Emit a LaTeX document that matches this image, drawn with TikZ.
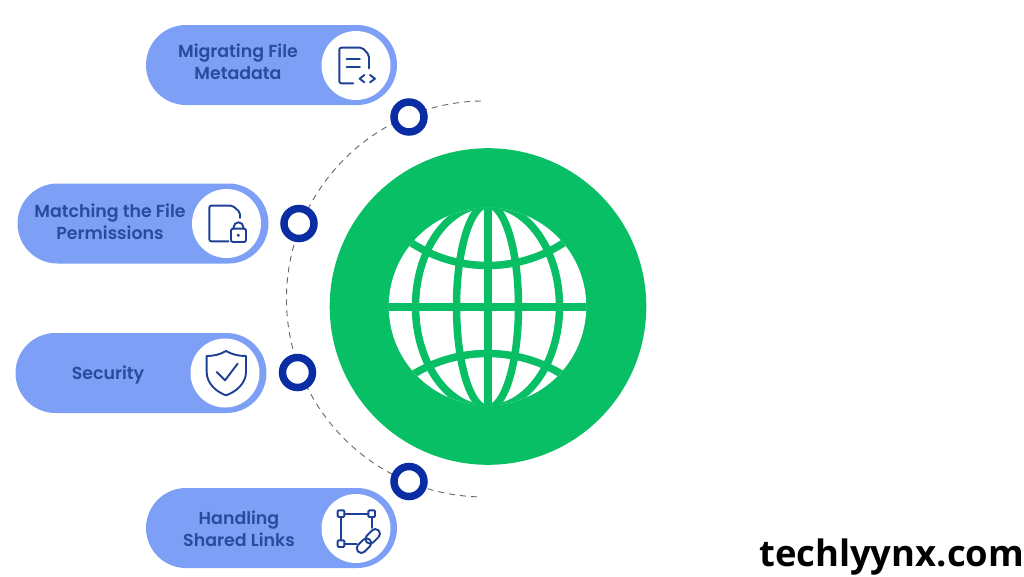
\documentclass[tikz,border=0pt]{standalone}
\usepackage{fontspec}
\setmainfont{Poppins}[BoldFont={Poppins SemiBold}]
\newfontfamily\brandfont{Open Sans}[BoldFont={Open Sans Bold}]
\usetikzlibrary{shapes.misc,positioning}
\definecolor{gpill}{HTML}{7E9FF6}
\definecolor{gtext}{HTML}{2A4A9C}
\definecolor{gicon}{HTML}{1E3F96}
\definecolor{gring}{HTML}{0A2DA3}
\definecolor{ggreen}{HTML}{08BF65}
\definecolor{gdash}{HTML}{666666}

\begin{document}
\begin{tikzpicture}[x=1pt,y=1pt]
    \tikzset{pill/.style={
      rounded rectangle,
      fill=gpill,
      minimum width=251,
      minimum height=80,
      inner sep=0},
      disc/.style={circle,fill=white,minimum size=69,inner sep=0},
      ring/.style={circle,draw=gring,fill=white,line width=7.5,minimum size=30,inner sep=0},
      lbl/.style={align=center,text=gtext,font=\fontsize{17.4}{22}\selectfont\bfseries},
      ico/.style={draw=gicon,line width=1.9,line join=round,line cap=round},
      icoat/.style={shift={(#1)},x=.3333pt,y=-.3333pt}}
    \useasboundingbox (0,0) rectangle (1024,-576);

    \coordinate (a0) at (481,-101);
    \draw[gdash,line width=.9,dash pattern=on 6 off 5] (a0) arc[start angle=91,end angle=269,radius=198];

    \node at (271.5,-65) [pill] (1) {};
    \node at (143,-223.5) [pill] (2) {};
    \node at (141,-373) [pill] (3) {};
    \node at (271.5,-528) [pill] (4) {};

    \node at (356,-65.5) [disc] (d1) {};
    \node at (226.5,-223.5) [disc] (d2) {};
    \node at (225,-373) [disc] (d3) {};
    \node at (356,-528.5) [disc] (d4) {};

    \node at (238,-61.5) [lbl] (t1) {Migrating File\\Metadata};
    \node at (110,-221.5) [lbl] (t2) {Matching the File\\Permissions};
    \node at (108,-374.5) [lbl] (t3) {Security};
    \node at (239,-529) [lbl] (t4) {Handling\\Shared Links};

    \node at (409,-117) [ring] (r1) {};
    \node at (299,-223.5) [ring] (r2) {};
    \node at (297.5,-372.5) [ring] (r3) {};
    \node at (409,-481.5) [ring] (r4) {};

    % globe
    \node at (488,-306.5) [circle,fill=ggreen,minimum size=316.6,inner sep=0] (g) {};
    \node at (487.5,-306.5) [circle,fill=white,minimum size=197.5,inner sep=0] (w) {};
    \begin{scope}
      \clip (487.5,-306.5) circle (98.8);
      \draw[ggreen,line width=7.5] (487.5,-306.5) ellipse (72 and 102);
      \draw[ggreen,line width=7.5] (487.5,-306.5) ellipse (31 and 102);
      \draw[ggreen,line width=8] (487.5,-200) -- (487.5,-410);
      \draw[ggreen,line width=8] (380,-306.5) -- (595,-306.5);
      \draw[ggreen,line width=7.5] (487.5,-126.5) circle (139);
      \draw[ggreen,line width=7.5] (487.5,-496.5) circle (143);
    \end{scope}

    % file with code
    \begin{scope}[icoat={325,-35}]
      \draw[ico,rounded corners=2] (132,100) -- (132,60) -- (112,38) -- (43,38) -- (43,145) -- (85,145);
      \draw[ico] (65,72) -- (105,72);
      \draw[ico] (65,95) -- (105,95);
      \draw[ico] (118,120) -- (104,131) -- (118,142);
      \draw[ico] (135,120) -- (150,131) -- (135,142);
    \end{scope}
    % file with lock
    \begin{scope}[icoat={196,-193}]
      \draw[ico,rounded corners=2] (132,75) -- (132,58) -- (110,38) -- (40,38) -- (40,145) -- (98,145);
      \draw[ico,rounded corners=2] (105,107) rectangle (150,147);
      \draw[ico] (113,107) -- (113,102) arc[start angle=180,end angle=0,x radius=14.5,y radius=-14] -- (142,107);
      \draw[ico] (127,127) circle (1.8);
    \end{scope}
    % shield
    \begin{scope}[icoat={195,-342}]
      \draw[ico] (93,27) .. controls (75,38) and (55,42) .. (35,42) -- (35,90) .. controls (35,125) and (65,150) .. (93,160) .. controls (122,150) and (153,125) .. (153,90) -- (153,42) .. controls (132,42) and (112,38) .. (93,27) -- cycle;
      \draw[ico] (65,90) -- (90,115) -- (128,65);
    \end{scope}
    % links
    \begin{scope}[icoat={325,-498}]
      \draw[ico,rounded corners=1] (38,37) rectangle (58,57);
      \draw[ico,rounded corners=1] (130,37) rectangle (150,57);
      \draw[ico,rounded corners=1] (38,127) rectangle (58,147);
      \draw[ico] (58,47) -- (130,47);
      \draw[ico] (48,57) -- (48,127);
      \draw[ico] (140,57) -- (140,90);
      \draw[ico] (58,137) -- (95,137);
      \draw[ico,rounded corners=4.5,rotate around={45:(117,143)}] (92,129) rectangle (142,157);
      \draw[ico,rounded corners=4.5,rotate around={45:(143,115)}] (118,101) rectangle (168,129);
    \end{scope}

    \node at (759,-566) [anchor=base west,inner sep=0,font=\brandfont\fontsize{36.4}{36}\selectfont\bfseries] (b) {techlyynx.com};
\end{tikzpicture}
\end{document}
